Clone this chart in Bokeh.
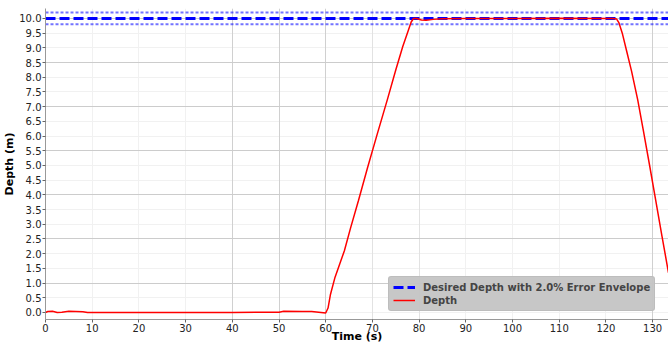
from bokeh.plotting import figure
from bokeh.models import FixedTicker, Grid, Legend, LegendItem, Range1d, CustomJSTickFormatter
from bokeh.embed import file_html
from bokeh.resources import INLINE

# ---- data ----
time_s = [0, 0.5, 1.5, 2.5, 3.5, 5, 6.5, 8, 9, 20, 40, 50, 51, 55, 57, 59, 60,
          60.5, 61, 62, 63, 64, 65.3, 67, 69, 71, 73.2, 75, 76.5, 77.7, 78.3, 78.8,
          79.5, 80.5, 81.5, 83, 85, 90, 100, 110, 121.5, 122.3, 122.8, 123.5,
          124.5, 125.5, 126.8, 128, 129.3, 130.6, 132, 133.4]
depth_m = [0.0, 0.03, 0.04, 0.0, 0.01, 0.04, 0.03, 0.02, 0.0, 0.0, 0.0, 0.01, 0.04, 0.03, 0.03, 0.0, -0.02,
           0.15, 0.6, 1.2, 1.65, 2.1, 2.86, 3.8, 4.95, 6.05, 7.24, 8.25, 9.05, 9.6, 9.88, 10.0,
           10.0, 9.95, 9.94, 9.97, 9.99, 10.0, 10.0, 10.01, 10.0, 9.98, 9.85, 9.5,
           8.85, 8.2, 7.24, 6.2, 5.05, 3.87, 2.6, 1.35]
desired_depth = 10.0
error_pct = 2.0
desired_t = [0, 134]
y_ticks = [0.0, 0.5, 1.0, 1.5, 2.0, 2.5, 3.0, 3.5, 4.0, 4.5, 5.0, 5.5, 6.0, 6.5,
           7.0, 7.5, 8.0, 8.5, 9.0, 9.5, 10.0]
y_major_grid = [1.0, 2.5, 4.0, 5.5, 7.0, 8.5, 10.0]
x_ticks = [0, 10, 20, 30, 40, 50, 60, 70, 80, 90, 100, 110, 120, 130]
x_grid_mid = [40, 50, 60, 130]
x_grid_light = [70, 80]

p = figure(width=668, height=345, output_backend="svg", toolbar_location=None,
           x_range=Range1d(0, 133.4), y_range=Range1d(-0.24, 10.34),
           min_border_top=8, min_border_right=0, min_border_left=20, min_border_bottom=10)
p.outline_line_color = None
p.background_fill_color = "white"

# grids
p.xgrid.grid_line_color = None
p.ygrid.grid_line_color = None
p.add_layout(Grid(dimension=1, ticker=FixedTicker(ticks=y_ticks), grid_line_color="#f1f1f1"))
p.add_layout(Grid(dimension=0, ticker=FixedTicker(ticks=x_ticks), grid_line_color="#f1f1f1"))
p.add_layout(Grid(dimension=0, ticker=FixedTicker(ticks=x_grid_light), grid_line_color="#e2e2e2"))
p.add_layout(Grid(dimension=0, ticker=FixedTicker(ticks=x_grid_mid), grid_line_color="#d0d0d0"))
p.add_layout(Grid(dimension=1, ticker=FixedTicker(ticks=y_major_grid), grid_line_color="#cccccc"))

lo = desired_depth * (1 - error_pct / 100)
hi = desired_depth * (1 + error_pct / 100)
r_hi = p.line(desired_t, [hi, hi], line_color="blue", line_alpha=0.55, line_width=2, line_dash="3 2")
r_lo = p.line(desired_t, [lo, lo], line_color="blue", line_alpha=0.55, line_width=2, line_dash="3 2")
r_des = p.line(desired_t, [desired_depth, desired_depth], line_color="blue", line_width=3, line_dash="10 4")
r_dep = p.line(time_s, depth_m, line_color="red", line_width=1.5)

for ax in (p.xaxis[0], p.yaxis[0]):
    ax.axis_line_color = "#999999"
    ax.major_tick_line_color = "#666666"
    ax.minor_tick_line_color = None
    ax.major_tick_in = 0
    ax.major_tick_out = 3
    ax.major_label_text_font = "DejaVu Sans"
    ax.major_label_text_font_size = "10px"
    ax.major_label_text_color = "#222222"
    ax.axis_label_text_font = "DejaVu Sans"
    ax.axis_label_text_font_size = "11px"
    ax.axis_label_text_font_style = "bold"
    ax.axis_label_text_color = "black"

p.xaxis.ticker = FixedTicker(ticks=x_ticks)
p.yaxis.ticker = FixedTicker(ticks=y_ticks)
p.yaxis.formatter = CustomJSTickFormatter(code="return tick.toFixed(1);")
p.yaxis.axis_label = "Depth (m)"
p.xaxis.axis_label = "Time (s)"
p.xaxis.major_label_standoff = 1
p.xaxis.axis_label_standoff = -5
p.yaxis.major_label_standoff = 1
p.yaxis.axis_label_standoff = 0

legend = Legend(items=[
    LegendItem(label="Desired Depth with 2.0% Error Envelope", renderers=[r_des]),
    LegendItem(label="Depth", renderers=[r_dep]),
], location=(343, 8))
legend.background_fill_color = "#c4c4c4"
legend.background_fill_alpha = 0.95
legend.border_line_color = "#b4b4b4"
legend.border_radius = 3
legend.label_text_font = "DejaVu Sans"
legend.label_text_font_style = "bold"
legend.label_text_font_size = "10px"
legend.label_height = 12
legend.glyph_height = 12
legend.glyph_width = 22
legend.spacing = 1
legend.padding = 4
legend.margin = 0
legend.label_standoff = 8
p.add_layout(legend)

open("out.html", "w").write(file_html(p, INLINE))
